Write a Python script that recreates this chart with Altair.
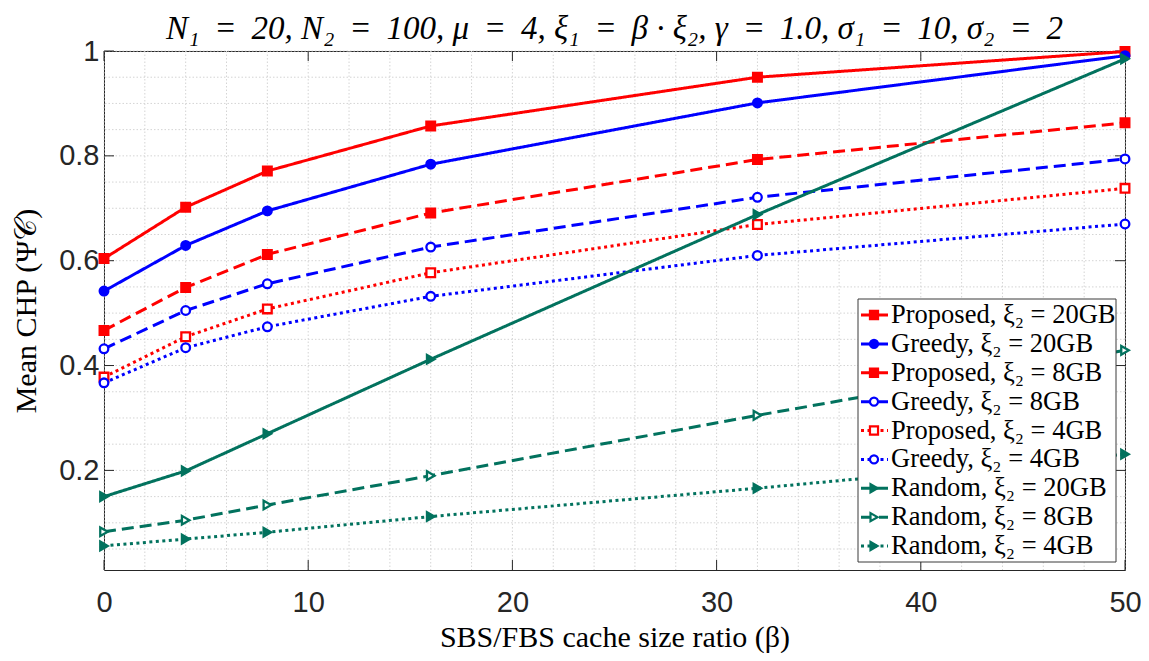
import altair as alt
import pandas as pd

# ---------------- data ----------------
beta = [0, 4, 8, 16, 32, 50]

series_names = [
    "Proposed, ξ₂ = 20GB",
    "Greedy, ξ₂ = 20GB",
    "Proposed, ξ₂ = 8GB",
    "Greedy, ξ₂ = 8GB",
    "Proposed, ξ₂ = 4GB",
    "Greedy, ξ₂ = 4GB",
    "Random, ξ₂ = 20GB",
    "Random, ξ₂ = 8GB",
    "Random, ξ₂ = 4GB",
]

prop20 = [0.604, 0.702, 0.771, 0.857, 0.950, 0.999]
greedy20 = [0.542, 0.629, 0.695, 0.784, 0.901, 0.991]
prop8 = [0.467, 0.549, 0.612, 0.691, 0.793, 0.863]
greedy8 = [0.432, 0.505, 0.556, 0.626, 0.721, 0.794]
prop4 = [0.378, 0.455, 0.508, 0.577, 0.669, 0.738]
greedy4 = [0.367, 0.434, 0.474, 0.532, 0.610, 0.670]
rand20 = [0.150, 0.199, 0.270, 0.412, 0.688, 0.985]
rand8 = [0.083, 0.105, 0.134, 0.190, 0.305, 0.429]
rand4 = [0.056, 0.069, 0.082, 0.112, 0.166, 0.231]

all_series = [prop20, greedy20, prop8, greedy8, prop4, greedy4, rand20, rand8, rand4]

x_major = [0, 10, 20, 30, 40, 50]
y_major = [0.2, 0.4, 0.6, 0.8, 1.0]
x_minor = list(range(0, 51, 2))
y_minor = [0.05, 0.10, 0.15, 0.20, 0.25, 0.30, 0.35, 0.40, 0.45, 0.50,
           0.55, 0.60, 0.65, 0.70, 0.75, 0.80, 0.85, 0.90, 0.95, 1.00]

EQ = " \u2009=\u2009 "
title_text = (f"N₁{EQ}20, N₂{EQ}100, μ{EQ}4, ξ₁{EQ}β · ξ₂, "
              f"γ{EQ}1.0, σ₁{EQ}10, σ₂{EQ}2")

rows = []
for name, vals in zip(series_names, all_series):
    for b, v in zip(beta, vals):
        rows.append({"x": b, "y": v, "series": name})
df = pd.DataFrame(rows)

# ---------------- styles ----------------
W, H = 1021, 519
RED, BLUE, GREEN = "#FF0000", "#0000FF", "#02725E"
colors = [RED, BLUE, RED, BLUE, RED, BLUE, GREEN, GREEN, GREEN]
SOLID, DASH, DOT = [1, 0], [12, 6], [3, 3.5]
dashes = [SOLID, SOLID, DASH, DASH, DOT, DOT, SOLID, DASH, DOT]
shapes = ["square", "circle"] * 3 + ["triangle-right"] * 3
fills = [RED, BLUE, RED, "white", "white", "white", GREEN, "white", GREEN]
AXC = "#262626"
LW = 3

xs = alt.Scale(domain=[0, 50], nice=False, zero=False)
ys = alt.Scale(domain=[0.01, 1], nice=False, zero=False)
color_scale = alt.Scale(domain=series_names, range=colors)
dash_scale = alt.Scale(domain=series_names, range=dashes)
shape_scale = alt.Scale(domain=series_names, range=shapes)
fill_scale = alt.Scale(domain=series_names, range=fills)

x_axis = alt.Axis(values=x_major, title="SBS/FBS cache size ratio (β)", grid=False,
                  ticks=False, tickSize=0, domain=False, labelPadding=18,
                  labelFlush=False, titlePadding=5)
y_axis = alt.Axis(values=y_major, format=".1~f", title="Mean CHP (Ψ𝒞)", grid=False,
                  ticks=False, tickSize=0, domain=False, labelPadding=5,
                  labelFlush=False, titlePadding=17)


def X():
    return alt.X("x:Q", scale=xs, axis=x_axis)


def Y():
    return alt.Y("y:Q", scale=ys, axis=y_axis)


grid_style = dict(color="#d4d4d4", strokeDash=[1.5, 2], strokeWidth=1)
vgrid = alt.Chart(pd.DataFrame({"x": x_minor})).mark_rule(**grid_style).encode(x=X())
hgrid = alt.Chart(pd.DataFrame({"y": y_minor})).mark_rule(**grid_style).encode(y=Y())

xt_df = pd.DataFrame({"x": x_major})
yt_df = pd.DataFrame({"y": y_major})
tick_style = dict(color=AXC, strokeWidth=1)
xt_b = alt.Chart(xt_df).mark_rule(**tick_style).encode(x=X(), y=alt.value(H), y2=alt.value(H - 10))
xt_t = alt.Chart(xt_df).mark_rule(**tick_style).encode(x=X(), y=alt.value(0), y2=alt.value(10))
yt_l = alt.Chart(yt_df).mark_rule(**tick_style).encode(y=Y(), x=alt.value(0), x2=alt.value(10))
yt_r = alt.Chart(yt_df).mark_rule(**tick_style).encode(y=Y(), x=alt.value(W), x2=alt.value(W - 10))

lines = alt.Chart(df).mark_line(strokeWidth=LW, strokeCap="butt", clip=False).encode(
    x=X(), y=Y(),
    color=alt.Color("series:N", scale=color_scale, legend=None),
    strokeDash=alt.StrokeDash("series:N", scale=dash_scale, legend=None),
)
points = alt.Chart(df).mark_point(opacity=1, fillOpacity=1, strokeOpacity=1,
                                  strokeWidth=2.3, size=75).encode(
    x=X(), y=Y(),
    shape=alt.Shape("series:N", scale=shape_scale, legend=None),
    stroke=alt.Stroke("series:N", scale=color_scale, legend=None),
    fill=alt.Fill("series:N", scale=fill_scale, legend=None),
)

main = alt.layer(vgrid, hgrid, xt_b, xt_t, yt_l, yt_r, lines, points)

# ---------------- legend ----------------
leg_df = pd.DataFrame({"series": series_names})
ly = alt.Y("series:N", scale=alt.Scale(type="point", domain=series_names,
                                       range=[264, 495], padding=0), axis=None)
box = alt.Chart(pd.DataFrame({"a": [0]})).mark_rect(fill="white", stroke="#3a3a3a",
                                                    strokeWidth=1).encode(
    x=alt.value(754), x2=alt.value(1012), y=alt.value(248), y2=alt.value(511))
lrule = alt.Chart(leg_df).mark_rule(strokeWidth=LW, strokeCap="butt").encode(
    x=alt.value(757), x2=alt.value(784), y=ly,
    color=alt.Color("series:N", scale=color_scale, legend=None),
    strokeDash=alt.StrokeDash("series:N", scale=dash_scale, legend=None),
)
lpt = alt.Chart(leg_df).mark_point(opacity=1, fillOpacity=1, strokeOpacity=1,
                                   strokeWidth=2.2, size=65).encode(
    x=alt.value(770), y=ly,
    shape=alt.Shape("series:N", scale=shape_scale, legend=None),
    stroke=alt.Stroke("series:N", scale=color_scale, legend=None),
    fill=alt.Fill("series:N", scale=fill_scale, legend=None),
)
ltxt = alt.Chart(leg_df).mark_text(align="left", baseline="middle", font="Liberation Serif",
                                   fontSize=26.5, color="black").encode(
    x=alt.value(787), y=ly, text="series:N")

legend = alt.layer(box, lrule, lpt, ltxt)

chart = alt.layer(main, legend).resolve_scale(y="independent").properties(
    width=W, height=H,
    autosize=alt.AutoSizeParams(type="none"),
    padding={"left": 96, "top": 43, "right": 16, "bottom": 83},
    title=alt.TitleParams(text=title_text, font="Liberation Serif", fontSize=33,
                          fontStyle="italic", fontWeight="normal", color="black",
                          anchor="middle", offset=0, dy=9),
    background="white",
).configure_view(stroke=AXC, strokeWidth=1).configure_axis(
    labelFont="Liberation Sans", labelFontSize=29, labelColor=AXC,
    titleFont="Liberation Serif", titleFontSize=30, titleColor="black",
    titleFontWeight="normal",
)

chart.save("out.html", embed_options={"renderer": "svg", "actions": False})
